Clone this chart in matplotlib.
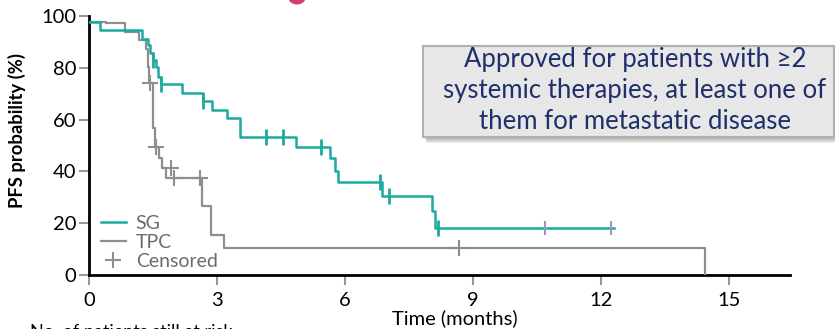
import matplotlib
matplotlib.use("Agg")
import matplotlib.pyplot as plt
from matplotlib.lines import Line2D
from matplotlib.patches import Rectangle, Ellipse

# Kaplan-Meier step data (time in months, PFS probability in %)
sg_time = [0, 0.26, 1.25, 1.39, 1.44, 1.51, 1.56, 1.62, 1.69, 2.17, 2.68, 2.89,
           3.23, 3.55, 4.84, 5.65, 5.77, 5.84, 6.86, 8.03, 8.12, 12.31]
sg_surv = [97.7, 94.7, 91.3, 88.8, 85.6, 83.0, 80.2, 76.6, 73.6, 70.1, 67.2, 63.7,
           60.5, 53.4, 49.4, 45.0, 40.3, 35.8, 30.6, 24.7, 18.3, 18.3]
sg_cens_time = [1.51, 1.69, 2.68, 4.14, 4.54, 5.43, 6.82, 7.04, 8.19]
sg_cens_surv = [83.0, 73.6, 67.2, 53.4, 53.4, 49.4, 35.8, 30.6, 18.3]
sg_late_cens_time = [10.69, 12.23]
sg_late_cens_surv = [18.3, 18.3]

tpc_time = [0, 0.40, 0.84, 1.18, 1.33, 1.38, 1.41, 1.51, 1.55, 1.65, 1.70, 1.80,
            2.65, 2.86, 3.16, 14.44, 14.44]
tpc_surv = [97.7, 97.2, 93.7, 90.7, 87.1, 80.4, 74.1, 56.6, 49.3, 45.0, 41.2, 37.3,
            26.6, 15.4, 10.5, 10.5, 0]
tpc_cens_time = [1.44, 1.58, 1.92, 2.00, 2.60, 8.67]
tpc_cens_surv = [74.1, 49.3, 41.2, 37.3, 37.3, 10.5]

x_ticks = [0, 3, 6, 9, 12, 15]
y_ticks = [0, 20, 40, 60, 80, 100]

TEAL = "#1aaba0"
GRAY = "#8e8e8e"
PURPLE = "#9b95c9"
NAVY = "#1f2f6b"

plt.rcParams["font.family"] = ["Lato", "DejaVu Sans"]

W, H = 835, 329
fig = plt.figure(figsize=(W / 100, H / 100), dpi=100)
ax = fig.add_axes([89 / W, 1 - 275 / H, (790 - 89) / W, (275 - 16) / H])

ax.step(tpc_time, tpc_surv, where="post", color=GRAY, lw=1.6, zorder=3)
ax.step(sg_time, sg_surv, where="post", color=TEAL, lw=1.8, zorder=4)
ax.plot(tpc_cens_time, tpc_cens_surv, ls="none", marker="+", ms=11, mew=1.5,
        color=GRAY, zorder=5)
ax.plot(sg_cens_time, sg_cens_surv, ls="none", marker="|", ms=11, mew=2,
        color=TEAL, zorder=6)
ax.plot(sg_late_cens_time, sg_late_cens_surv, ls="none", marker="|", ms=10, mew=1.5,
        color=PURPLE, zorder=6)

ax.set_xlim(0, 16.43)
ax.set_ylim(0, 100)
ax.set_xticks(x_ticks)
ax.set_yticks(y_ticks)
ax.tick_params(axis="both", direction="out", length=7, width=1.5, color="#999999",
               labelsize=14.5, labelcolor="black")
ax.tick_params(axis="x", pad=5)
ax.tick_params(axis="y", pad=2)
for side in ("top", "right"):
    ax.spines[side].set_visible(False)
for side in ("left", "bottom"):
    ax.spines[side].set_linewidth(2)
    ax.spines[side].set_color("black")

handles = [Line2D([], [], color=TEAL, lw=1.8),
           Line2D([], [], color=GRAY, lw=1.6),
           Line2D([], [], ls="none", marker="+", ms=11, mew=1.5, color=GRAY)]
leg = ax.legend(handles, ["SG", "TPC", "Censored"], loc="lower left",
                bbox_to_anchor=(0.0, -0.025), frameon=False, fontsize=14,
                handlelength=1.3, handletextpad=0.5, labelspacing=0.1,
                borderpad=0.1)
for t in leg.get_texts():
    t.set_color("#6a6a6a")

fig.text(17 / W, 1 - 131 / H, "PFS probability (%)", rotation=90, ha="center",
         va="center", fontsize=13.2, fontweight="bold")
fig.text(455 / W, 1 - 324 / H, "Time (months)", ha="center", va="baseline",
         fontsize=14.5)
fig.text(30 / W, 1 - 337 / H, "No. of patients still at risk", ha="left",
         va="baseline", fontsize=13)

# Annotation box with a soft drop shadow
bx0, bx1, by0, by1 = 423, 834, 46, 137
for i, a in enumerate([0.10, 0.14, 0.18]):
    off = 6 - i * 1.5
    fig.patches.append(Rectangle(((bx0 + off * 0.6) / W, 1 - (by1 + off) / H),
                                 (bx1 - bx0) / W, (by1 - by0) / H,
                                 transform=fig.transFigure, facecolor="#555555",
                                 edgecolor="none", alpha=a, zorder=1))
fig.patches.append(Rectangle((bx0 / W, 1 - by1 / H), (bx1 - bx0) / W,
                             (by1 - by0) / H, transform=fig.transFigure,
                             facecolor="#e7e7e7", edgecolor="#b0b0b0", lw=1.5,
                             zorder=2))
box_lines = ["Approved for patients with \u22652",
             "systemic therapies, at least one of",
             "them for metastatic disease"]
for k, line in enumerate(box_lines):
    fig.text(635 / W, 1 - (59.5 + 31 * k) / H, line, ha="center", va="center",
             fontsize=18.5, color=NAVY, zorder=3)

# Partial glyph from the slide title above the chart
fig.patches.append(Ellipse((297 / W, 1 - (-2) / H), 17 / W, 13 / H,
                           transform=fig.transFigure, facecolor="#d4406f",
                           edgecolor="none", zorder=3))

fig.savefig("out.png", dpi=100)
